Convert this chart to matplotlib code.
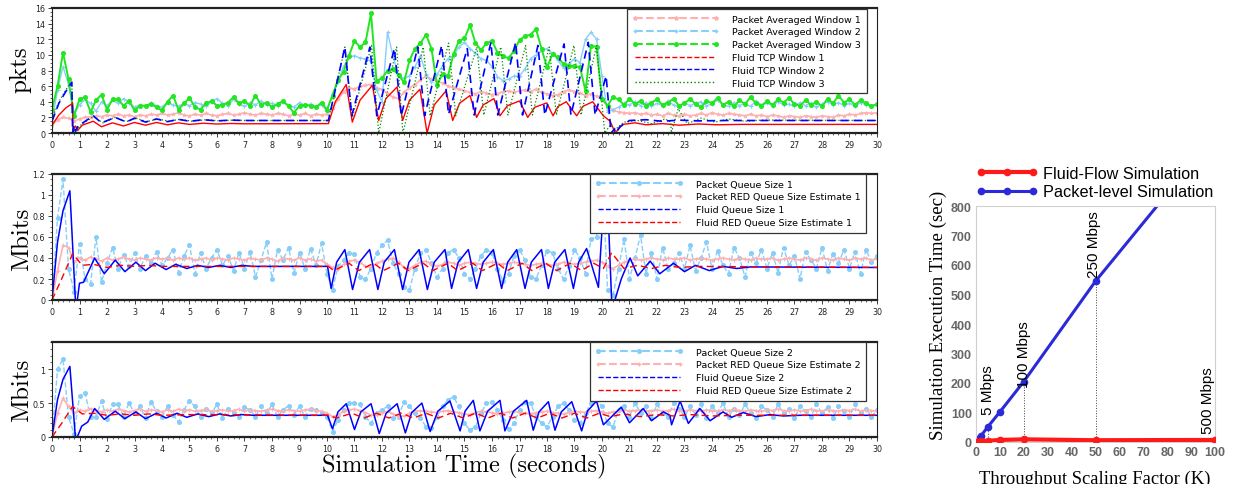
import numpy as np
import matplotlib
matplotlib.use('Agg')
import matplotlib.pyplot as plt
from matplotlib.lines import Line2D
from matplotlib.ticker import MultipleLocator, FormatStrFormatter

# packet-level traces are sampled every 0.2 s (one line below = one second)
STEP = 0.2

# ---- top panel: congestion windows (pkts) ----
pkt_win1 = [
    1.0, 1.7, 2.0, 1.9, 1.5,
    1.8, 2.0, 2.1, 2.2, 2.1,
    2.3, 2.2, 2.4, 2.2, 2.3,
    2.1, 2.3, 2.2, 2.4, 2.3,
    2.5, 2.3, 2.4, 2.6, 2.3,
    2.2, 2.4, 2.3, 2.5, 2.3,
    2.2, 2.4, 2.5, 2.3, 2.4,
    2.6, 2.4, 2.3, 2.5, 2.4,
    2.3, 2.5, 2.4, 2.2, 2.4,
    2.3, 2.5, 2.2, 2.4, 2.3,
    2.4, 3.2, 4.3, 5.3, 5.8,
    5.6, 6.0, 6.1, 6.2, 5.7,
    5.6, 5.0, 4.6, 4.4, 5.2,
    5.8, 6.2, 6.8, 7.3, 6.9,
    6.6, 6.4, 6.0, 5.8, 5.6,
    5.4, 5.2, 5.0, 5.3, 5.1,
    4.9, 5.0, 5.3, 5.4, 5.2,
    5.4, 5.5, 5.3, 5.6, 5.2,
    5.0, 4.8, 4.9, 5.3, 5.5,
    5.3, 5.1, 4.8, 5.0, 4.7,
    4.3, 3.4, 2.9, 2.7, 2.6,
    2.5, 2.6, 2.4, 2.5, 2.3,
    2.4, 2.2, 2.5, 2.3, 2.2,
    2.4, 2.2, 2.3, 2.5, 2.3,
    2.6, 2.4, 2.3, 2.5, 2.4,
    2.3, 2.2, 2.4, 2.2, 2.3,
    2.1, 2.3, 2.2, 2.0, 2.2,
    2.1, 2.0, 2.2, 2.1, 2.0,
    2.2, 2.1, 2.0, 2.3, 2.2,
    2.4, 2.3, 2.5, 2.6, 2.5,
    2.6]

pkt_win2 = [
    1.5, 5.5, 8.5, 6.2, 2.5,
    3.6, 4.3, 3.8, 2.8, 4.0,
    3.5, 4.2, 3.8, 4.4, 3.9,
    3.3, 3.6, 3.4, 3.9, 3.5,
    3.3, 3.9, 3.6, 3.4, 3.8,
    3.5, 3.9, 3.7, 3.4, 4.0,
    4.4, 3.8, 3.5, 4.3, 3.7,
    3.4, 3.9, 3.6, 4.1, 3.6,
    3.8, 3.5, 4.0, 3.6, 3.3,
    3.9, 3.5, 3.7, 3.4, 3.6,
    2.8, 5.0, 6.5, 8.5, 9.7,
    9.9, 9.6, 9.5, 9.2, 5.5,
    4.0, 12.9, 9.9, 7.3, 7.0,
    7.3, 8.5, 9.9, 7.5, 6.5,
    7.5, 8.6, 9.5, 9.9, 11.0,
    11.6, 10.8, 10.2, 9.5, 9.3,
    8.5, 7.2, 6.7, 6.9, 7.3,
    7.3, 8.2, 9.5, 10.0, 10.5,
    10.8, 10.2, 9.3, 8.3, 8.9,
    9.5, 9.0, 12.0, 12.9, 12.0,
    7.3, 2.7, 3.0, 3.3, 3.8,
    3.6, 4.0, 3.5, 3.9, 3.4,
    3.8, 3.5, 4.1, 3.6, 3.3,
    3.9, 3.5, 3.8, 4.0, 3.5,
    3.7, 4.2, 3.6, 3.4, 3.9,
    3.5, 3.8, 3.4, 4.1, 3.6,
    3.8, 3.5, 4.0, 3.6, 3.7,
    3.4, 3.9, 3.5, 3.8, 3.3,
    3.7, 4.0, 3.6, 3.9, 3.5,
    3.8, 3.4, 3.9, 3.6, 3.5,
    3.7]

pkt_win3 = [
    3.0, 6.0, 10.3, 6.9, 2.2,
    4.3, 4.6, 2.7, 4.2, 4.9,
    3.0, 4.3, 4.3, 3.5, 4.1,
    2.9, 3.5, 3.5, 3.7, 3.3,
    2.9, 4.0, 4.8, 3.0, 3.8,
    4.5, 3.3, 3.0, 3.8, 4.1,
    3.5, 3.6, 3.9, 4.6, 3.8,
    4.1, 3.5, 4.8, 3.6, 3.9,
    3.3, 3.7, 4.1, 3.4, 2.6,
    3.5, 3.6, 3.5, 3.3, 3.9,
    3.0, 4.8, 6.8, 7.8, 9.9,
    11.8, 11.0, 11.6, 15.3, 6.7,
    7.0, 8.0, 8.2, 7.4, 6.5,
    9.3, 10.8, 11.5, 12.6, 10.8,
    6.1, 7.6, 7.3, 10.1, 11.8,
    12.1, 13.8, 11.5, 10.6, 11.5,
    11.8, 10.3, 9.8, 9.6, 10.5,
    11.9, 12.4, 12.6, 13.3, 10.8,
    8.4, 10.1, 9.7, 8.8, 8.6,
    8.6, 8.4, 5.4, 11.2, 11.0,
    4.4, 3.5, 4.6, 4.3, 3.6,
    4.4, 3.7, 4.1, 3.5, 3.9,
    4.3, 3.6, 3.9, 4.4, 3.5,
    3.8, 4.4, 3.7, 3.3, 4.1,
    3.8, 4.5, 3.6, 4.0, 3.4,
    4.2, 3.7, 4.6, 3.8, 3.5,
    4.1, 3.6, 4.3, 3.9, 4.5,
    3.7, 3.5, 4.2, 3.6, 4.0,
    3.4, 4.4, 3.8, 4.8, 3.9,
    4.3, 3.6, 4.2, 3.8, 3.4,
    3.7]

# fluid model, (time, value) breakpoints
fluid_win1 = [(0, 1.0), (0.25, 2.3), (0.5, 3.2), (0.75, 3.8), (0.76, 0.3), (0.85, 0.9),
              (0.95, 0.4), (1.1, 1.0), (1.5, 1.5), (1.8, 0.8), (2.2, 1.3), (2.6, 0.9),
              (3.0, 1.35), (3.4, 1.0), (3.8, 1.35), (4.2, 1.05), (4.6, 1.3), (5.0, 1.1),
              (5.5, 1.25), (6.0, 1.15), (6.5, 1.22), (7.0, 1.18), (10.05, 1.2),
              (10.3, 4.0), (10.7, 6.2), (10.92, 1.4), (11.2, 4.2), (11.65, 6.1),
              (11.88, 1.6), (12.14, 4.4), (12.55, 5.9), (12.75, 1.6), (13.0, 4.2),
              (13.38, 5.6), (13.64, 0.0), (13.9, 3.6), (14.33, 5.4), (14.57, 1.6),
              (14.82, 3.8), (15.2, 4.8), (15.44, 2.0), (15.68, 3.6), (16.07, 4.4),
              (16.29, 2.2), (16.56, 3.5), (17.0, 4.1), (17.3, 2.0), (17.56, 3.3),
              (17.99, 3.85), (18.22, 2.2), (18.4, 3.4), (18.7, 4.0), (19.08, 2.2),
              (19.3, 3.4), (19.66, 4.0), (20.05, 2.2), (20.3, 1.5), (20.48, 0.0),
              (20.75, 1.1), (21.2, 1.3), (21.6, 1.05), (22.2, 1.2), (22.8, 1.0),
              (23.5, 1.15), (24.2, 1.05), (25.0, 1.1), (30.0, 1.1)]

fluid_win2 = [(0, 1.5), (0.25, 3.8), (0.5, 5.3), (0.72, 6.5), (0.75, 0.0), (0.8, 1.0),
              (0.85, 0.2), (0.95, 0.9), (1.5, 2.2), (1.8, 1.3), (2.3, 2.0), (2.7, 1.4),
              (3.0, 1.9), (3.4, 1.4), (3.8, 1.8), (4.2, 1.45), (4.6, 1.75), (5.0, 1.5),
              (5.5, 1.7), (6.0, 1.55), (6.5, 1.65), (7.0, 1.6), (10.05, 1.6),
              (10.65, 11.0), (10.9, 2.2), (11.56, 11.0), (11.81, 2.2), (12.45, 10.8),
              (12.7, 2.2), (13.3, 11.0), (13.55, 2.2), (14.17, 11.2), (14.42, 2.4),
              (15.1, 10.8), (15.35, 2.3), (15.96, 11.6), (16.21, 2.3), (16.86, 11.6),
              (17.11, 2.3), (17.67, 11.2), (17.92, 2.3), (18.62, 11.4), (18.87, 2.3),
              (19.5, 11.6), (19.75, 2.3), (20.15, 7.3), (20.33, 0.0), (20.45, 0.5),
              (20.5, 0.0), (20.65, 0.8), (21.0, 1.6), (21.6, 1.7), (22.2, 1.5),
              (22.8, 1.65), (23.5, 1.55), (24.5, 1.6), (30.0, 1.6)]

fluid_win3 = [(0, 1.8), (0.25, 4.0), (0.5, 5.5), (0.72, 6.6), (0.76, 0.0), (0.82, 0.8),
              (0.9, 0.0), (1.0, 0.9), (1.5, 2.1), (1.85, 1.3), (2.3, 2.0), (2.7, 1.45),
              (3.05, 1.9), (3.45, 1.45), (3.85, 1.8), (4.25, 1.5), (4.65, 1.75),
              (5.1, 1.5), (5.6, 1.7), (6.1, 1.55), (6.6, 1.65), (7.1, 1.6), (10.05, 1.6),
              (10.65, 11.0), (10.92, 2.0), (11.62, 11.2), (11.88, 0.0), (12.53, 11.0),
              (12.76, 0.0), (13.5, 11.0), (13.75, 2.2), (14.42, 11.5), (14.68, 2.2),
              (15.45, 11.0), (15.7, 2.3), (16.32, 11.0), (16.58, 2.3), (17.22, 11.2),
              (17.47, 2.3), (18.08, 11.0), (18.34, 2.3), (18.98, 11.2), (19.24, 2.3),
              (19.8, 11.2), (20.1, 0.0), (20.3, 1.0), (20.5, 0.5), (20.8, 1.4),
              (21.3, 1.6), (21.8, 1.2), (22.3, 1.8), (22.5, 1.4), (22.52, 0.0),
              (22.6, 1.0), (22.77, 3.1), (23.1, 1.2), (23.6, 1.9), (24.1, 1.4),
              (24.6, 1.8), (25.2, 1.5), (25.8, 1.65), (30.0, 1.6)]

# ---- middle panel: queue 1 (Mbits) ----
pkt_queue1 = [
    0.0, 0.78, 1.15, 0.30, 0.08,
    0.53, 0.20, 0.15, 0.60, 0.17,
    0.35, 0.50, 0.30, 0.43, 0.32,
    0.45, 0.30, 0.42, 0.35, 0.46,
    0.33, 0.40, 0.48, 0.26, 0.42,
    0.52, 0.25, 0.45, 0.30, 0.40,
    0.48, 0.33, 0.42, 0.28, 0.45,
    0.30, 0.46, 0.22, 0.38, 0.55,
    0.20, 0.48, 0.38, 0.50, 0.26,
    0.45, 0.30, 0.49, 0.33, 0.54,
    0.25, 0.10, 0.32, 0.38, 0.45,
    0.44, 0.22, 0.20, 0.30, 0.45,
    0.52, 0.57, 0.35, 0.25, 0.12,
    0.10, 0.30, 0.45, 0.48, 0.35,
    0.22, 0.30, 0.45, 0.48, 0.40,
    0.25, 0.20, 0.30, 0.42, 0.48,
    0.45, 0.30, 0.18, 0.25, 0.42,
    0.48, 0.38, 0.22, 0.20, 0.33,
    0.47, 0.45, 0.30, 0.20, 0.32,
    0.48, 0.40, 0.25, 0.58, 0.60,
    1.30, 0.10, 0.05, 0.30, 0.58,
    0.20, 0.40, 0.62, 0.25, 0.45,
    0.20, 0.50, 0.30, 0.35, 0.45,
    0.30, 0.52, 0.28, 0.40, 0.55,
    0.30, 0.47, 0.33, 0.25, 0.50,
    0.40, 0.22, 0.45, 0.35, 0.48,
    0.30, 0.45, 0.26, 0.50, 0.33,
    0.42, 0.20, 0.46, 0.38, 0.30,
    0.50, 0.28, 0.44, 0.35, 0.48,
    0.30, 0.46, 0.25, 0.48, 0.36,
    0.42]

pkt_red1 = [
    0.0, 0.28, 0.52, 0.50, 0.36,
    0.40, 0.38, 0.41, 0.39, 0.37,
    0.40, 0.38, 0.39, 0.41, 0.39,
    0.38, 0.40, 0.39, 0.38, 0.40,
    0.39, 0.40, 0.38, 0.40, 0.39,
    0.40, 0.38, 0.39, 0.40, 0.38,
    0.40, 0.39, 0.38, 0.40, 0.39,
    0.38, 0.40, 0.39, 0.38, 0.40,
    0.39, 0.37, 0.40, 0.39, 0.38,
    0.40, 0.38, 0.39, 0.37, 0.38,
    0.34, 0.31, 0.30, 0.34, 0.37,
    0.38, 0.36, 0.32, 0.31, 0.35,
    0.37, 0.39, 0.40, 0.36, 0.31,
    0.30, 0.33, 0.36, 0.37, 0.34,
    0.32, 0.34, 0.36, 0.35, 0.33,
    0.35, 0.36, 0.35, 0.34, 0.35,
    0.36, 0.35, 0.34, 0.35, 0.36,
    0.35, 0.34, 0.33, 0.34, 0.35,
    0.34, 0.33, 0.34, 0.36, 0.35,
    0.34, 0.35, 0.36, 0.37, 0.38,
    0.36, 0.32, 0.30, 0.33, 0.36,
    0.38, 0.39, 0.38, 0.39, 0.40,
    0.39, 0.38, 0.40, 0.39, 0.39,
    0.40, 0.38, 0.39, 0.40, 0.39,
    0.38, 0.39, 0.40, 0.39, 0.38,
    0.40, 0.39, 0.38, 0.40, 0.39,
    0.39, 0.40, 0.38, 0.39, 0.40,
    0.39, 0.38, 0.40, 0.39, 0.38,
    0.40, 0.39, 0.38, 0.40, 0.39,
    0.38, 0.40, 0.39, 0.40, 0.38,
    0.39]

fluid_queue1 = [(0, 0.0), (0.2, 0.55), (0.4, 0.85), (0.65, 1.04), (0.85, 0.0), (0.92, 0.0),
                (1.0, 0.16), (1.15, 0.17), (1.55, 0.40), (1.9, 0.25), (2.3, 0.38),
                (2.65, 0.27), (3.05, 0.36), (3.4, 0.28), (3.75, 0.35), (4.15, 0.29),
                (4.5, 0.34), (4.9, 0.30), (5.3, 0.33), (5.7, 0.31), (6.1, 0.33),
                (6.5, 0.31), (6.9, 0.33), (7.3, 0.32), (10.02, 0.32), (10.15, 0.11),
                (10.35, 0.36), (10.65, 0.48), (10.93, 0.10), (11.18, 0.36), (11.55, 0.48),
                (11.85, 0.10), (12.08, 0.36), (12.45, 0.48), (12.75, 0.10), (12.98, 0.36),
                (13.35, 0.48), (13.65, 0.10), (13.9, 0.36), (14.29, 0.48), (14.53, 0.11),
                (14.77, 0.36), (15.14, 0.48), (15.44, 0.11), (15.68, 0.36), (16.05, 0.48),
                (16.35, 0.11), (16.57, 0.36), (16.9, 0.48), (17.2, 0.11), (17.43, 0.36),
                (17.8, 0.48), (18.05, 0.11), (18.28, 0.36), (18.65, 0.48), (18.96, 0.11),
                (19.15, 0.36), (19.44, 0.49), (19.87, 0.12), (20.15, 1.3), (20.35, 0.0),
                (20.47, 0.0), (20.7, 0.2), (21.02, 0.40), (21.3, 0.23), (21.75, 0.37),
                (22.1, 0.25), (22.6, 0.35), (23.0, 0.27), (23.4, 0.33), (23.9, 0.28),
                (24.4, 0.32), (24.9, 0.30), (25.4, 0.315), (30.0, 0.31)]

fluid_red1 = [(0, 0.0), (0.35, 0.2), (0.75, 0.44), (1.1, 0.33), (1.5, 0.34), (2.0, 0.31),
              (2.5, 0.33), (3.0, 0.32), (3.5, 0.33), (4.0, 0.32), (10.05, 0.32),
              (10.25, 0.28), (10.8, 0.35), (11.15, 0.28), (11.7, 0.35), (12.05, 0.28),
              (12.6, 0.35), (12.95, 0.28), (13.5, 0.35), (13.85, 0.28), (14.4, 0.35),
              (14.75, 0.28), (15.3, 0.35), (15.65, 0.28), (16.2, 0.35), (16.55, 0.28),
              (17.1, 0.35), (17.45, 0.28), (17.95, 0.35), (18.35, 0.28), (18.85, 0.35),
              (19.25, 0.28), (19.7, 0.35), (20.05, 0.30), (20.35, 0.45), (20.8, 0.30),
              (21.3, 0.33), (21.8, 0.30), (22.3, 0.33), (22.8, 0.31), (23.5, 0.32),
              (30.0, 0.31)]

# ---- bottom panel: queue 2 (Mbits) ----
pkt_queue2 = [
    0.0, 1.0, 1.15, 0.30, 0.05,
    0.60, 0.65, 0.30, 0.30, 0.53,
    0.26, 0.48, 0.48, 0.30, 0.50,
    0.35, 0.45, 0.28, 0.52, 0.38,
    0.30, 0.45, 0.33, 0.22, 0.40,
    0.53, 0.45, 0.30, 0.42, 0.35,
    0.48, 0.28, 0.42, 0.36, 0.30,
    0.44, 0.40, 0.30, 0.45, 0.35,
    0.48, 0.30, 0.40, 0.46, 0.33,
    0.45, 0.30, 0.42, 0.40, 0.35,
    0.30, 0.08, 0.25, 0.40, 0.50,
    0.50, 0.48, 0.30, 0.20, 0.35,
    0.40, 0.45, 0.28, 0.30, 0.52,
    0.45, 0.35, 0.28, 0.15, 0.14,
    0.30, 0.45, 0.55, 0.59, 0.45,
    0.20, 0.10, 0.15, 0.35, 0.50,
    0.52, 0.40, 0.25, 0.12, 0.20,
    0.40, 0.52, 0.50, 0.30, 0.20,
    0.15, 0.30, 0.45, 0.50, 0.40,
    0.25, 0.20, 0.35, 0.50, 0.55,
    0.45, 0.20, 0.15, 0.40, 0.45,
    0.30, 0.50, 0.35, 0.45, 0.28,
    0.48, 0.35, 0.30, 0.50, 0.42,
    0.30, 0.45, 0.33, 0.48, 0.28,
    0.45, 0.35, 0.50, 0.30, 0.42,
    0.32, 0.48, 0.36, 0.28, 0.45,
    0.40, 0.30, 0.48, 0.35, 0.42,
    0.28, 0.45, 0.38, 0.30, 0.48,
    0.35, 0.44, 0.28, 0.46, 0.38,
    0.30, 0.48, 0.35, 0.42, 0.30,
    0.40]

pkt_red2 = [
    0.0, 0.35, 0.57, 0.45, 0.35,
    0.40, 0.38, 0.42, 0.39, 0.37,
    0.40, 0.38, 0.41, 0.39, 0.37,
    0.39, 0.41, 0.38, 0.40, 0.39,
    0.37, 0.40, 0.38, 0.41, 0.39,
    0.40, 0.38, 0.39, 0.41, 0.38,
    0.39, 0.40, 0.38, 0.39, 0.41,
    0.38, 0.40, 0.39, 0.38, 0.40,
    0.41, 0.39, 0.38, 0.40, 0.39,
    0.38, 0.40, 0.41, 0.39, 0.38,
    0.35, 0.30, 0.32, 0.38, 0.40,
    0.41, 0.39, 0.36, 0.32, 0.33,
    0.36, 0.38, 0.34, 0.30, 0.31,
    0.35, 0.38, 0.39, 0.38, 0.37,
    0.36, 0.38, 0.39, 0.37, 0.36,
    0.34, 0.33, 0.36, 0.38, 0.37,
    0.36, 0.34, 0.35, 0.37, 0.38,
    0.36, 0.35, 0.34, 0.36, 0.37,
    0.38, 0.36, 0.35, 0.34, 0.36,
    0.38, 0.37, 0.36, 0.38, 0.39,
    0.37, 0.35, 0.37, 0.38, 0.40,
    0.38, 0.39, 0.40, 0.38, 0.39,
    0.40, 0.38, 0.39, 0.41, 0.39,
    0.38, 0.40, 0.39, 0.38, 0.40,
    0.39, 0.38, 0.40, 0.39, 0.41,
    0.39, 0.38, 0.40, 0.39, 0.38,
    0.40, 0.39, 0.41, 0.39, 0.38,
    0.40, 0.38, 0.39, 0.41, 0.39,
    0.38, 0.40, 0.39, 0.38, 0.40,
    0.39, 0.41, 0.38, 0.40, 0.39,
    0.38]

fluid_queue2 = [(0, 0.0), (0.2, 0.55), (0.4, 0.85), (0.65, 1.04), (0.85, 0.0), (0.92, 0.0),
                (1.08, 0.16), (1.3, 0.22), (1.55, 0.42), (1.9, 0.26), (2.3, 0.38),
                (2.65, 0.27), (3.05, 0.37), (3.4, 0.27), (3.8, 0.35), (4.15, 0.28),
                (4.55, 0.35), (4.9, 0.29), (5.3, 0.34), (5.7, 0.30), (6.1, 0.34),
                (6.5, 0.31), (6.9, 0.33), (7.3, 0.32), (10.02, 0.32), (10.2, 0.12),
                (10.4, 0.37), (10.7, 0.49), (11.0, 0.11), (11.23, 0.37), (11.6, 0.49),
                (11.9, 0.05), (12.15, 0.35), (12.55, 0.49), (12.85, 0.06), (13.08, 0.36),
                (13.45, 0.50), (13.75, 0.08), (14.03, 0.38), (14.47, 0.53), (14.84, 0.09),
                (15.02, 0.38), (15.32, 0.54), (15.56, 0.09), (15.84, 0.38), (16.29, 0.54),
                (16.47, 0.09), (16.78, 0.38), (17.26, 0.54), (17.5, 0.10), (17.71, 0.37),
                (18.05, 0.52), (18.29, 0.10), (18.52, 0.37), (18.9, 0.52), (19.26, 0.09),
                (19.47, 0.38), (19.8, 0.53), (20.05, 0.18), (20.7, 0.44), (21.0, 0.21),
                (21.5, 0.42), (21.8, 0.24), (22.23, 0.37), (22.47, 0.32), (22.53, 0.18),
                (22.84, 0.53), (23.14, 0.20), (23.56, 0.42), (23.93, 0.24), (24.4, 0.37),
                (24.71, 0.29), (25.14, 0.36), (25.6, 0.30), (26.1, 0.33), (26.6, 0.31),
                (27.2, 0.32), (30.0, 0.32)]

fluid_red2 = [(0, 0.0), (0.35, 0.2), (0.75, 0.45), (1.1, 0.34), (1.5, 0.35), (2.0, 0.32),
              (2.5, 0.34), (3.0, 0.32), (3.5, 0.34), (4.0, 0.32), (5.0, 0.33),
              (10.05, 0.32), (10.35, 0.28), (10.9, 0.35), (11.35, 0.28), (11.8, 0.35),
              (12.25, 0.28), (12.7, 0.35), (13.15, 0.28), (13.6, 0.35), (14.05, 0.28),
              (14.5, 0.35), (14.95, 0.28), (15.4, 0.35), (15.85, 0.28), (16.3, 0.35),
              (16.75, 0.28), (17.2, 0.35), (17.65, 0.28), (18.1, 0.35), (18.55, 0.28),
              (19.0, 0.35), (19.45, 0.28), (19.9, 0.35), (20.3, 0.30), (20.8, 0.34),
              (21.4, 0.30), (22.0, 0.33), (22.6, 0.31), (23.2, 0.33), (24.0, 0.31),
              (25.0, 0.32), (30.0, 0.32)]

# ---- right panel: execution time vs scaling factor ----
scale_k = [0, 1, 2, 5, 10, 20, 50, 100]
fluid_exec = [0, 1, 2, 4, 7, 9, 6, 7]
packet_exec = [0, 10, 20, 52, 102, 205, 545, 1040]
marked_k = [5, 20, 50]
rate_labels = ['5 Mbps', '100 Mbps', '250 Mbps', '500 Mbps']

PINK = '#ffb0b0'
SKY = '#87cefa'
LIME = '#22e622'
W, H = 1233, 485


def grid_t(vals):
    return np.arange(len(vals)) * STEP


def xy(pairs):
    a = np.array(pairs, dtype=float)
    return a[:, 0], a[:, 1]


def px_axes(fig, x0, y0, x1, y1):
    # pixel box (left, top, right, bottom) -> figure axes
    return fig.add_axes([x0 / W, 1 - y1 / H, (x1 - x0) / W, (y1 - y0) / H])


def style_left(ax, top, major, minor):
    ax.set_xlim(0, 30)
    ax.set_ylim(0, top)
    ax.xaxis.set_major_locator(MultipleLocator(1))
    ax.xaxis.set_minor_locator(MultipleLocator(0.2))
    ax.yaxis.set_major_locator(MultipleLocator(major))
    ax.yaxis.set_minor_locator(MultipleLocator(minor))
    ax.yaxis.set_major_formatter(FormatStrFormatter('%g'))
    ax.tick_params(which='both', direction='out', labelsize=5.8, pad=2,
                   top=False, right=False, colors='#222222')
    ax.tick_params(which='major', length=3, width=0.6)
    ax.tick_params(which='minor', length=1.5, width=0.5)
    for s in ('top', 'bottom'):
        ax.spines[s].set_linewidth(1.6)
        ax.spines[s].set_color('#222222')
    for s in ('left', 'right'):
        ax.spines[s].set_linewidth(0.8)
        ax.spines[s].set_color('#222222')


def add_legend(ax, handles, labels, anchor):
    leg = ax.legend(handles, labels, loc='upper right', bbox_to_anchor=anchor,
                    bbox_transform=ax.figure.transFigure, fontsize=6.8,
                    handlelength=9.2, handletextpad=1.4, labelspacing=0.4,
                    borderpad=0.6, borderaxespad=0, numpoints=3, fancybox=False,
                    framealpha=1)
    leg.get_frame().set_edgecolor('#333333')
    leg.get_frame().set_linewidth(0.9)
    return leg


fig = plt.figure(figsize=(W / 100, H / 100), dpi=100)

# top panel
ax1 = px_axes(fig, 52, 9, 877, 134)
ax1.plot(grid_t(pkt_win1), pkt_win1, color=PINK, lw=1.2, marker='*', ms=3, mew=0.4)
ax1.plot(grid_t(pkt_win2), pkt_win2, color=SKY, lw=1.0, marker='+', ms=3.5, mew=0.8)
ax1.plot(grid_t(pkt_win3), pkt_win3, color=LIME, lw=1.4, marker='o', ms=2.6)
ax1.plot(*xy(fluid_win1), color='red', lw=1.0)
ax1.plot(*xy(fluid_win3), color='#008800', lw=0.9, ls=':')
ax1.plot(*xy(fluid_win2), color='blue', lw=1.2, ls=(0, (5, 3)))
style_left(ax1, 16, 2, 0.5)
h1 = [Line2D([], [], color=PINK, ls='--', marker='*', ms=3),
      Line2D([], [], color=SKY, ls='--', marker='+', ms=3.5),
      Line2D([], [], color=LIME, ls='--', marker='o', ms=2.6),
      Line2D([], [], color='red', ls='--', lw=1),
      Line2D([], [], color='blue', ls='--', lw=1),
      Line2D([], [], color='#008800', ls=':', lw=1)]
add_legend(ax1, h1, ['Packet Averaged Window 1', 'Packet Averaged Window 2',
                     'Packet Averaged Window 3', 'Fluid TCP Window 1',
                     'Fluid TCP Window 2', 'Fluid TCP Window 3'],
           (867 / W, 1 - 10 / H))

# middle panel
ax2 = px_axes(fig, 52, 175, 877, 301)
ax2.plot(grid_t(pkt_queue1), pkt_queue1, color=SKY, lw=1.0, ls='--', marker='o', ms=2.6)
ax2.plot(grid_t(pkt_red1), pkt_red1, color=PINK, lw=1.2, marker='+', ms=3.5, mew=0.8)
ax2.plot(*xy(fluid_queue1), color='blue', lw=1.1)
ax2.plot(*xy(fluid_red1), color='red', lw=1.0, ls=(0, (5, 3)))
style_left(ax2, 1.2, 0.2, 0.05)
hq = [Line2D([], [], color=SKY, ls='--', marker='o', ms=2.6),
      Line2D([], [], color=PINK, ls='--', marker='+', ms=3.5),
      Line2D([], [], color='blue', ls='--', lw=1),
      Line2D([], [], color='red', ls='--', lw=1)]
add_legend(ax2, hq, ['Packet Queue Size 1', 'Packet RED Queue Size Estimate 1',
                     'Fluid Queue Size 1', 'Fluid RED Queue Size Estimate 1'],
           (866 / W, 1 - 175 / H))

# bottom panel
ax3 = px_axes(fig, 52, 343, 877, 438)
ax3.plot(grid_t(pkt_queue2), pkt_queue2, color=SKY, lw=1.0, ls='--', marker='o', ms=2.6)
ax3.plot(grid_t(pkt_red2), pkt_red2, color=PINK, lw=1.2, marker='+', ms=3.5, mew=0.8)
ax3.plot(*xy(fluid_queue2), color='blue', lw=1.1)
ax3.plot(*xy(fluid_red2), color='red', lw=1.0, ls=(0, (5, 3)))
style_left(ax3, 1.4, 0.5, 0.1)
add_legend(ax3, hq, ['Packet Queue Size 2', 'Packet RED Queue Size Estimate 2',
                     'Fluid Queue Size 2', 'Fluid RED Queue Size Estimate 2'],
           (866 / W, 1 - 343 / H))

# left-side labels (LaTeX look)
fig.text(20 / W, 1 - 70 / H, 'pkts', rotation=90, ha='center', va='center',
         family='cmr10', fontsize=18)
fig.text(22 / W, 1 - 239 / H, 'Mbits', rotation=90, ha='center', va='center',
         family='cmr10', fontsize=18)
fig.text(22 / W, 1 - 390 / H, 'Mbits', rotation=90, ha='center', va='center',
         family='cmr10', fontsize=18)
fig.text(464 / W, 1 - 466 / H, 'Simulation Time (seconds)', ha='center', va='center',
         family='cmr10', fontsize=17.5)

# right panel
ax4 = px_axes(fig, 976, 207, 1215, 443)
l_fluid, = ax4.plot(scale_k, fluid_exec, color='#ff1a1a', lw=3, marker='o', ms=4.5,
                    zorder=3)
l_pkt, = ax4.plot(scale_k, packet_exec, color='#2a2ad8', lw=2.2, marker='o', ms=4.5,
                  zorder=2)
for k in marked_k:
    top = packet_exec[scale_k.index(k)]
    ax4.plot([k, k], [0, top], color='#444444', lw=0.7, ls=':', zorder=1)
label_pos = [(5, 95), (20, 185), (49.5, 560), (97, 30)]
for (lx, ly), txt in zip(label_pos, rate_labels):
    ax4.text(lx, ly, txt, rotation=90, ha='center', va='bottom', fontsize=11,
             family='Liberation Sans')
ax4.set_xlim(0, 100)
ax4.set_ylim(0, 800)
ax4.xaxis.set_major_locator(MultipleLocator(10))
ax4.yaxis.set_major_locator(MultipleLocator(100))
ax4.tick_params(length=0, labelsize=9, labelcolor='#666666', pad=3)
for lbl in ax4.get_xticklabels() + ax4.get_yticklabels():
    lbl.set_fontweight('bold')
    lbl.set_family('Liberation Sans')
for s in ax4.spines.values():
    s.set_color('#d0d0d0')
    s.set_linewidth(0.8)
fig.legend([l_fluid, l_pkt], ['Fluid-Flow Simulation', 'Packet-level Simulation'],
           loc='upper left', bbox_to_anchor=(976 / W, 1 - 167 / H), frameon=False,
           prop={'family': 'Liberation Sans', 'size': 11.7}, handlelength=3.8,
           handletextpad=0.35, labelspacing=0.2, borderpad=0, borderaxespad=0,
           numpoints=3)
fig.text(938 / W, 1 - 315 / H, 'Simulation Execution Time (sec)', rotation=90,
         ha='center', va='center', family='Liberation Serif', fontsize=13.6)
fig.text(1095 / W, 1 - 471 / H, 'Throughput Scaling Factor (K)', ha='center',
         va='top', family='Liberation Serif', fontsize=13.4)

fig.savefig('out.png', dpi=100)
